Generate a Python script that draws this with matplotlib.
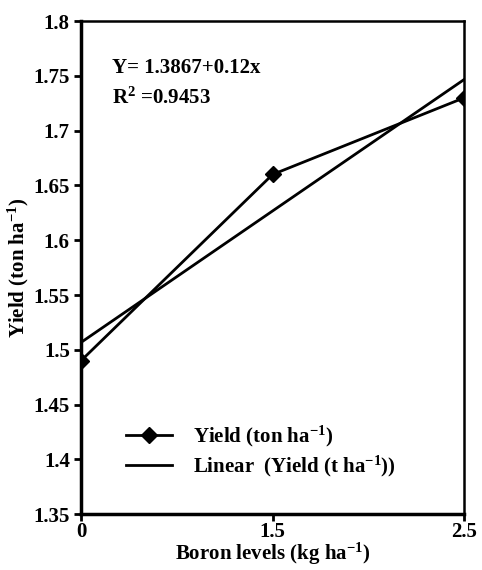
import numpy as np
import matplotlib
matplotlib.use('Agg')
import matplotlib.pyplot as plt

# Datos
boro = ['0', '1.5', '2.5']
rendimiento = [1.49, 1.66, 1.73]
intercepto = 1.3867
pendiente = 0.12

plt.rcParams['font.family'] = 'Liberation Serif'
plt.rcParams['font.weight'] = 'bold'
plt.rcParams['axes.labelweight'] = 'bold'
plt.rcParams['mathtext.fontset'] = 'custom'
plt.rcParams['mathtext.rm'] = 'Liberation Serif:bold'
plt.rcParams['mathtext.default'] = 'rm'

fig = plt.figure(figsize=(4.82, 5.70), dpi=100)
ax = fig.add_axes([0.168, 0.098, 0.795, 0.865])

x = np.arange(len(boro))
ax.plot(x, rendimiento, color='black', lw=2, marker='D', ms=8,
        label='Yield (ton ha$^{-1}$)')
# Tendencia lineal (Excel usa 1, 2, 3 como x)
tendencia = intercepto + pendiente * (x + 1)
ax.plot(x, tendencia, color='black', lw=2,
        label='Linear  (Yield (t ha$^{-1}$))')

ax.set_xlim(0, 2)
ax.set_ylim(1.35, 1.8)
ax.set_yticks(np.arange(1.35, 1.801, 0.05))
ax.set_yticklabels(['1.35', '1.4', '1.45', '1.5', '1.55', '1.6', '1.65',
                    '1.7', '1.75', '1.8'])
ax.set_xticks(x)
ax.set_xticklabels(boro)
ax.tick_params(axis='both', labelsize=15, width=2, length=5, direction='out')
ax.tick_params(axis='x', pad=0.5)
ax.tick_params(axis='y', pad=3)
for lado in ['left', 'bottom']:
    ax.spines[lado].set_linewidth(2.5)
for lado in ['top', 'right']:
    ax.spines[lado].set_linewidth(1.8)

ax.set_xlabel('Boron levels (kg ha$^{-1}$)', fontsize=15, labelpad=-1)
ax.set_ylabel('Yield (ton ha$^{-1}$)', fontsize=15, labelpad=2)

ax.text(0.08, 0.905, 'Y= 1.3867+0.12x', transform=ax.transAxes, fontsize=15,
        va='center')
ax.text(0.08, 0.843, 'R$^2$ =0.9453', transform=ax.transAxes, fontsize=15,
        va='center')

ax.legend(loc='lower left', bbox_to_anchor=(0.09, 0.05), frameon=False,
          fontsize=15, handlelength=2.2, handletextpad=1.0,
          labelspacing=0.25, borderpad=0)

fig.savefig('out.png', dpi=100)
